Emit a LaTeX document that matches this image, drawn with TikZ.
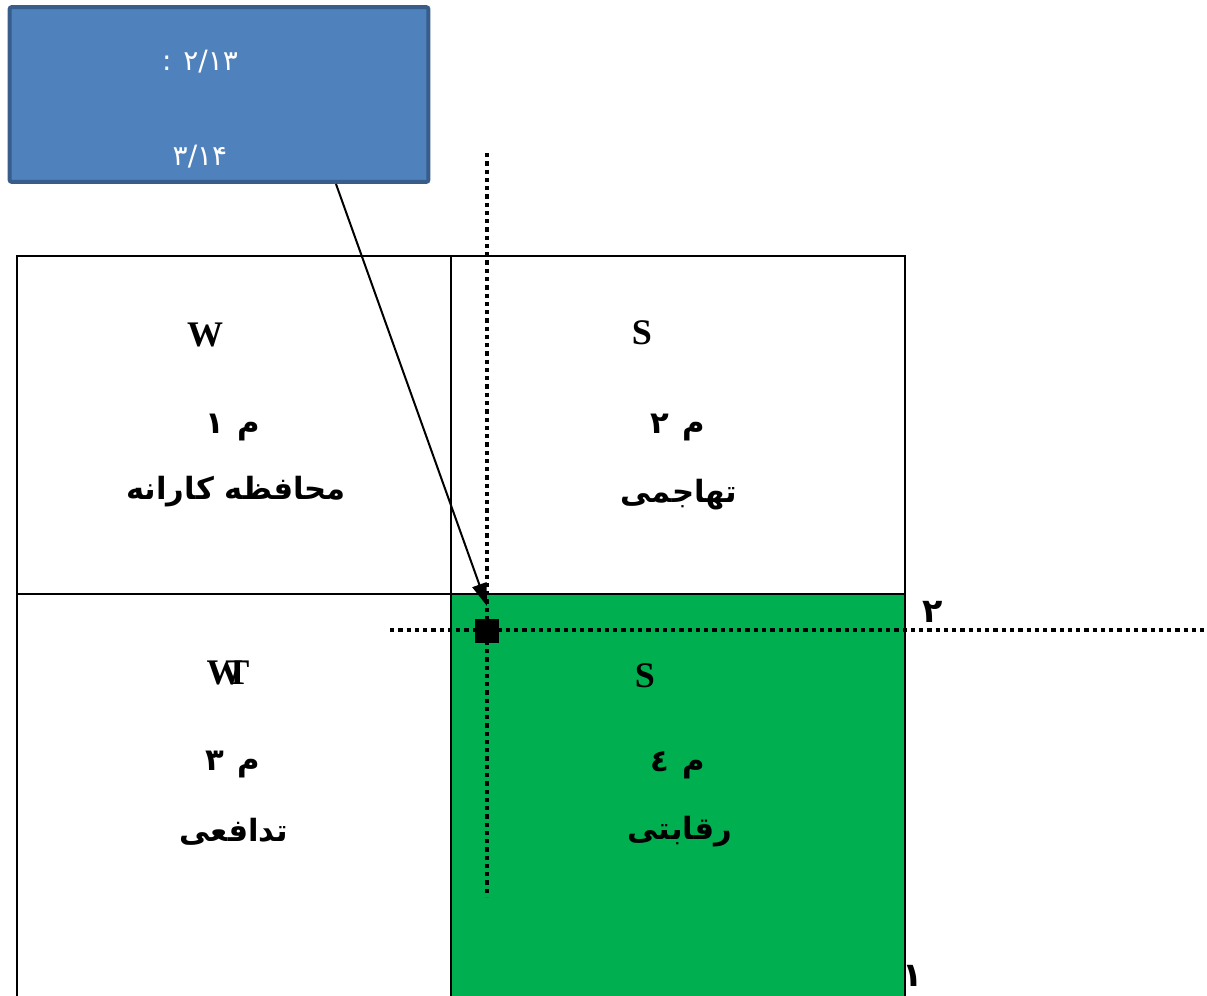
\documentclass[tikz,border=0pt]{standalone}
\usepackage{fontspec}
\usetikzlibrary{arrows.meta}
\TeXXeTstate=1
\newfontfamily\arabicfont[Script=Arabic]{DejaVu Sans}
\newfontfamily\latinserif{Liberation Serif}
\definecolor{boxblue}{HTML}{4F81BD}
\definecolor{boxedge}{HTML}{385D8A}
\definecolor{quadgreen}{HTML}{00B050}
\tikzset{
  grid/.style={line width=1.6pt},
  dotline/.style={line width=3.2pt, dash pattern=on 3.2pt off 3pt},
  latinlbl/.style={font=\latinserif\bfseries\fontsize{27}{30}\selectfont, inner sep=0pt},
  arlbl/.style={font=\arabicfont\bfseries\fontsize{23}{27}\selectfont, inner sep=0pt},
  numlbl/.style={font=\arabicfont\bfseries\fontsize{25}{29}\selectfont, inner sep=0pt},
  boxtxt/.style={font=\arabicfont\fontsize{21}{25}\selectfont, text=white, inner sep=0pt},
}
\begin{document}
\begin{tikzpicture}[x=0.75pt,y=-0.75pt]
\useasboundingbox (0,0) rectangle (1207,996);
% green quadrant
\fill[quadgreen] (451,594) rectangle (905,1000);
% grid
\draw[grid] (17,1000) -- (17,256) -- (905,256) -- (905,1000);
\draw[grid] (451,256) -- (451,1000);
\draw[grid] (17,594) -- (905,594);
% dotted axes
\coordinate (vtop) at (487,153);
\coordinate (vbot) at (487,897);
\coordinate (hleft) at (390,630);
\coordinate (hright) at (1207,630);
\draw[dotline] (vtop) -- (vbot);
\draw[dotline] (hleft) -- (hright);
% point
\node[fill=black, minimum size=18pt, inner sep=0pt] (pt) at (487,631) {};
% blue box
\node[draw=boxedge, fill=boxblue, line width=3pt, rounded corners=1.5pt,
      minimum width=314pt, minimum height=131pt, inner sep=0pt] (box) at (219,94.5) {};
\node[boxtxt] (val1) at (200,62) {: ۲/۱۳};
\node[boxtxt] (val2) at (200,157) {۳/۱۴};
% arrow
\coordinate (astart) at (336,184);
\coordinate (aend) at (487,606);
\draw[line width=1.5pt, -{Triangle[length=17pt,width=11pt]}] (astart) -- (aend);
% latin labels
\node[latinlbl] (w) at (205,335) {W};
\node[latinlbl] (s1) at (642,333) {S};
\node[latinlbl] (wt) at (228,673) {W\kern-13pt T};
\node[latinlbl] (s2) at (645,676) {S};
% arabic labels
\node[arlbl] (m1) at (233,428) {\beginR م\hspace{10pt}۱\endR};
\node[arlbl] (t1) at (236,492) {\beginR محافظه کارانه\endR};
\node[arlbl] (m2) at (678,428) {\beginR م\hspace{10pt}۲\endR};
\node[arlbl] (t2) at (679,495) {\beginR تهاجمی\endR};
\node[arlbl] (m3) at (233,765) {\beginR م\hspace{10pt}۳\endR};
\node[arlbl] (t3) at (234,832) {\beginR تدافعی\endR};
\node[arlbl] (m4) at (678,765) {\beginR م\hspace{10pt}٤\endR};
\node[arlbl] (t4) at (680,832) {\beginR رقابتی\endR};
% axis numbers
\node[numlbl] (n2) at (933,612) {۲};
\node[numlbl] (n1) at (913,976) {۱};
\end{tikzpicture}
\end{document}
